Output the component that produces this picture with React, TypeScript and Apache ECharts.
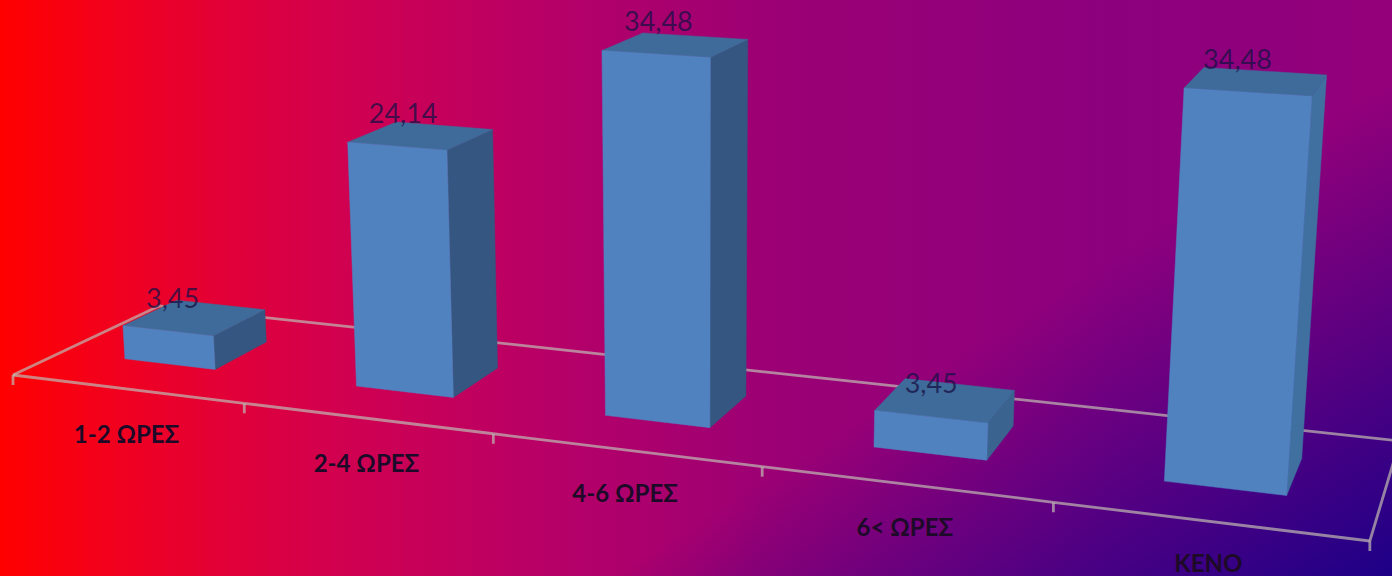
import React, { useEffect, useRef } from "react";
import * as echarts from "echarts";

const categories = ["1-2 ΩΡΕΣ", "2-4 ΩΡΕΣ", "4-6 ΩΡΕΣ", "6< ΩΡΕΣ", "ΚΕΝΟ"];
const percentages = [3.45, 24.14, 34.48, 3.45, 34.48];

const WIDTH = 1392;
const HEIGHT = 576;
const VALUE_MAX = 40;

// Perspective camera: u runs along the category axis (0..1), d across the floor (0..1),
// v is the height in value units.
function project(u: number, d: number, v: number): [number, number] {
  const w = 1 - 0.178 * u + 0.0978 * d - 0.00103 * v;
  const x = 1113 * u + 161.6 * d - 0.717 * v + 13;
  const y = 69.7 * u - 39.1 * d - 10.1 * v + 375;
  return [x / w, y / w];
}

const DEPTH_FRONT = 0.32;
const DEPTH_BACK = 0.7;
const BAR_RATIO = 0.4;

const FRONT_COLOR = "#5082c0";
const TOP_COLOR = "#3e6b99";
const AXIS_COLOR = "rgba(190,182,176,0.72)";
const VALUE_TEXT = "rgba(24,16,70,0.75)";
const CATEGORY_TEXT = "#1c0a28";

function mix(a: number[], b: number[], t: number) {
  const c = a.map((p, i) => Math.round(p + (b[i] - p) * t));
  return `rgb(${c[0]},${c[1]},${c[2]})`;
}

function polygon(points: [number, number][], fill: string) {
  return {
    type: "polygon",
    shape: { points },
    style: { fill, stroke: fill, lineWidth: 0.5 },
  };
}

function segment(a: [number, number], b: [number, number]) {
  return {
    type: "line",
    shape: { x1: a[0], y1: a[1], x2: b[0], y2: b[1] },
    style: { stroke: AXIS_COLOR, lineWidth: 2.8 },
  };
}

// The grid spans the page, so pixel positions from the axes convert directly to camera coordinates.
function renderBar(params: any, api: any) {
  const value = api.value(1) as number;
  const foot = api.coord([api.value(0), 0]);
  const head = api.coord([api.value(0), value]);
  const band = api.size([1, 0])[0];
  const slot = foot[0] / WIDTH;
  // Columns sit slightly left of their slot on the near side of the axis.
  const centre = slot - 0.004 + 0.005 * slot;
  const half = ((band / WIDTH) * BAR_RATIO) / 2;
  const v = ((foot[1] - head[1]) / HEIGHT) * VALUE_MAX;
  const l = centre - half;
  const r = centre + half;

  const fbl = project(l, DEPTH_FRONT, 0);
  const fbr = project(r, DEPTH_FRONT, 0);
  const ftl = project(l, DEPTH_FRONT, v);
  const ftr = project(r, DEPTH_FRONT, v);
  const bbr = project(r, DEPTH_BACK, 0);
  const btr = project(r, DEPTH_BACK, v);
  const btl = project(l, DEPTH_BACK, v);

  const side = mix([52, 86, 128], [64, 112, 160], Math.max(0, (centre - 0.5) / 0.4));
  const labelX = project(slot, DEPTH_FRONT, v * 0.6)[0];
  const labelY = project(slot, DEPTH_FRONT, v)[1] - 34;

  return {
    type: "group",
    children: [
      polygon([fbr, bbr, btr, ftr], side),
      polygon([ftl, ftr, btr, btl], TOP_COLOR),
      polygon([fbl, fbr, ftr, ftl], FRONT_COLOR),
      {
        type: "text",
        style: {
          x: labelX,
          y: labelY,
          text: value.toFixed(2).replace(".", ","),
          fill: VALUE_TEXT,
          font: '27px Lato, "Noto Sans", sans-serif',
          align: "center",
          verticalAlign: "middle",
        },
      },
    ],
  };
}

// Floor outline, category ticks and category names.
function renderFloor(params: any, api: any) {
  const i = api.value(0) as number;
  const band = api.size([1, 0])[0] / WIDTH;
  const centre = api.coord([i, 0])[0] / WIDTH;
  const left = centre - band / 2;
  const children: any[] = [];
  const tick = (u: number) => {
    const p = project(u, 0, 0);
    children.push(segment(p, [p[0], p[1] + 10]));
  };
  tick(left);
  children.push(segment(project(left, 0, 0), project(left + band, 0, 0)));
  children.push(segment(project(left, 1, 0), project(left + band, 1, 0)));
  if (params.dataIndex === 0) children.push(segment(project(0, 0, 0), project(0, 1, 0)));
  if (params.dataIndex === categories.length - 1) {
    tick(1);
    children.push(segment(project(1, 0, 0), project(1, 1, 0)));
  }
  const anchor = project(centre, 0, 0);
  children.push({
    type: "text",
    style: {
      x: anchor[0],
      y: anchor[1] + 45.5 - 5 * centre,
      text: categories[params.dataIndex],
      fill: CATEGORY_TEXT,
      font: 'bold 24px Lato, "Noto Sans", sans-serif',
      align: "center",
      verticalAlign: "middle",
    },
  });
  return { type: "group", children };
}

export default function App() {
  const ref = useRef<HTMLDivElement>(null);
  useEffect(() => {
    const chart = echarts.init(ref.current!, undefined, { renderer: "svg" });
    const rows = percentages.map((value, i) => [i, value]);
    chart.setOption({
      animation: false,
      backgroundColor: {
        type: "linear",
        x: 0,
        y: 0,
        x2: 1,
        y2: 0,
        colorStops: [
          { offset: 0, color: "#ff0000" },
          { offset: 0.1, color: "#ee0024" },
          { offset: 0.24, color: "#d2004f" },
          { offset: 0.4, color: "#b60068" },
          { offset: 0.55, color: "#9c0074" },
          { offset: 0.8, color: "#8c007e" },
          { offset: 1, color: "#94007a" },
        ],
      },
      graphic: [
        {
          type: "rect",
          z: -10,
          shape: { x: 0, y: 0, width: WIDTH, height: HEIGHT },
          style: {
            fill: {
              type: "linear",
              global: true,
              x: 1392,
              y: 80,
              x2: 1613,
              y2: 428,
              colorStops: [
                { offset: 0, color: "rgba(30,0,135,0)" },
                { offset: 1, color: "rgba(30,0,135,1)" },
              ],
            },
          },
        },
      ],
      grid: { left: 0, top: 0, width: WIDTH, height: HEIGHT },
      xAxis: { type: "category", data: categories, show: false },
      yAxis: { type: "value", min: 0, max: VALUE_MAX, show: false },
      series: [
        { type: "custom", z: 1, data: rows, renderItem: renderFloor, silent: true },
        { type: "custom", z: 2, data: rows, renderItem: renderBar, silent: true },
      ],
    });
    return () => chart.dispose();
  }, []);
  return (
    <div
      ref={ref}
      style={{ position: "absolute", left: 0, top: 0, width: WIDTH, height: HEIGHT }}
    />
  );
}
